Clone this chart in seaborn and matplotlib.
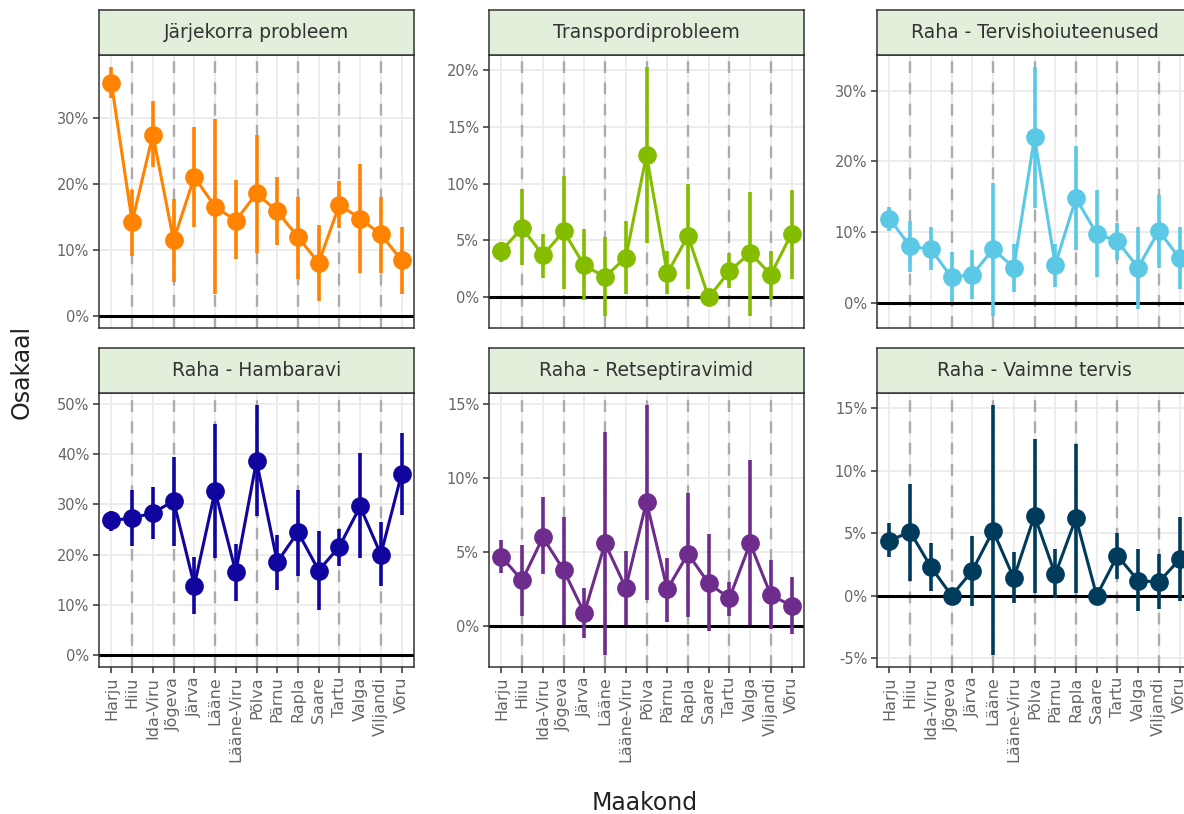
import numpy as np
import pandas as pd
import matplotlib
matplotlib.use("Agg")
import matplotlib.pyplot as plt
import seaborn as sns
from matplotlib.ticker import MultipleLocator, FuncFormatter

# ---------------- data (percent) ----------------
counties = ["Harju", "Hiiu", "Ida-Viru", "Jõgeva", "Järva", "Lääne", "Lääne-Viru",
            "Põlva", "Pärnu", "Rapla", "Saare", "Tartu", "Valga", "Viljandi", "Võru"]

panels = ["Järjekorra probleem", "Transpordiprobleem", "Raha - Tervishoiuteenused",
          "Raha - Hambaravi", "Raha - Retseptiravimid", "Raha - Vaimne tervis"]

jarjekord_val = [35.2, 14.2, 27.4, 11.4, 21.0, 16.5, 14.4, 18.5, 15.8, 11.9, 8.0, 16.8, 14.7, 12.3, 8.4]
jarjekord_lo = [32.9, 9.1, 22.5, 5.1, 13.4, 3.3, 8.6, 9.5, 10.7, 5.6, 2.2, 13.2, 6.5, 6.5, 3.3]
jarjekord_hi = [37.6, 19.0, 32.5, 17.7, 28.6, 29.8, 20.5, 27.3, 21.0, 18.0, 13.7, 20.4, 22.9, 18.0, 13.4]

transport_val = [4.1, 6.1, 3.7, 5.8, 2.8, 1.8, 3.5, 12.5, 2.1, 5.4, 0.0, 2.3, 3.9, 2.0, 5.6]
transport_lo = [3.1, 2.8, 1.7, 0.7, -0.2, -1.6, 0.3, 4.8, 0.3, 0.7, 0.0, 0.8, -1.6, -0.2, 1.6]
transport_hi = [4.9, 9.5, 5.6, 10.7, 6.0, 5.3, 6.7, 20.2, 4.1, 10.0, 0.0, 3.9, 9.3, 4.1, 9.4]

tervis_val = [11.9, 8.0, 7.6, 3.6, 4.0, 7.6, 5.0, 23.4, 5.4, 14.8, 9.8, 8.7, 5.0, 10.2, 6.3]
tervis_lo = [10.2, 4.4, 4.6, 0.1, 0.6, -1.8, 1.6, 13.4, 2.2, 7.5, 3.6, 6.0, -0.8, 4.9, 2.0]
tervis_hi = [13.5, 11.6, 10.7, 7.2, 7.5, 17.0, 8.3, 33.3, 8.3, 22.2, 16.0, 11.3, 10.7, 15.2, 10.7]

hamba_val = [26.8, 27.3, 28.3, 30.7, 13.8, 32.7, 16.5, 38.7, 18.5, 24.5, 16.8, 21.6, 29.6, 20.0, 36.1]
hamba_lo = [24.8, 21.7, 23.1, 21.7, 8.1, 19.3, 10.8, 27.6, 12.9, 15.8, 8.9, 17.8, 19.3, 13.8, 27.8]
hamba_hi = [28.6, 32.9, 33.5, 39.5, 19.6, 46.0, 22.1, 49.8, 24.0, 32.8, 24.8, 25.1, 40.3, 26.5, 44.3]

retsept_val = [4.7, 3.1, 6.0, 3.8, 0.9, 5.6, 2.6, 8.4, 2.5, 4.9, 2.9, 1.9, 5.6, 2.1, 1.4]
retsept_lo = [3.6, 0.7, 3.5, 0.1, -0.8, -1.9, 0.1, 1.8, 0.3, 0.6, -0.3, 0.7, 0.1, -0.2, -0.5]
retsept_hi = [5.8, 5.5, 8.7, 7.4, 2.6, 13.1, 5.1, 14.9, 4.6, 9.0, 6.2, 3.0, 11.2, 4.5, 3.3]

vaimne_val = [4.4, 5.1, 2.3, 0.0, 2.0, 5.2, 1.4, 6.4, 1.7, 6.2, 0.0, 3.2, 1.2, 1.1, 2.9]
vaimne_lo = [3.1, 1.2, 0.4, 0.0, -0.8, -4.7, -0.6, 0.2, -0.2, 0.2, 0.0, 1.3, -1.2, -1.1, -0.4]
vaimne_hi = [5.8, 8.9, 4.2, 0.0, 4.8, 15.2, 3.5, 12.5, 3.7, 12.1, 0.0, 5.0, 3.7, 3.3, 6.3]

colors = ["#FF8200", "#84BD00", "#5BC8E6", "#10069F", "#6E2C8C", "#003B5C"]
ystep = [10, 5, 10, 10, 5, 5]

series = [
    (jarjekord_val, jarjekord_lo, jarjekord_hi),
    (transport_val, transport_lo, transport_hi),
    (tervis_val, tervis_lo, tervis_hi),
    (hamba_val, hamba_lo, hamba_hi),
    (retsept_val, retsept_lo, retsept_hi),
    (vaimne_val, vaimne_lo, vaimne_hi),
]

frames = []
for name, (v, lo, hi) in zip(panels, series):
    frames.append(pd.DataFrame({"panel": name, "maakond": counties,
                                "pos": np.arange(len(counties)),
                                "val": v, "lo": lo, "hi": hi}))
df = pd.concat(frames, ignore_index=True)

# ---------------- style ----------------
sns.set_theme(style="white")
plt.rcParams["font.family"] = ["DejaVu Sans"]

W, H = 1184, 814
fig = plt.figure(figsize=(W / 100, H / 100), dpi=100)

col_x = [99, 489, 877]
pan_w = 315
rows = [(10, 55, 328), (348, 393, 667)]  # strip top, panel top, panel bottom

def add_px_axes(x0, y0, x1, y1):
    return fig.add_axes([x0 / W, 1 - y1 / H, (x1 - x0) / W, (y1 - y0) / H])

pct = FuncFormatter(lambda v, p: f"{v:.0f}%")

for k, name in enumerate(panels):
    r, c = divmod(k, 3)
    st, pt, pb = rows[r]
    x0 = col_x[c]
    d = df[df.panel == name]
    color = colors[k]

    ax = add_px_axes(x0, pt, x0 + pan_w, pb)
    ax.set_facecolor("white")

    # grid
    for i in d.pos:
        ax.axvline(i, color="#EBEBEB", lw=1.3, zorder=0.5)
    for i in d.pos[1::2]:
        ax.axvline(i, color="#ABABAB", lw=1.7, ls=(0, (5, 4)), zorder=0.8)

    ax.axhline(0, color="black", lw=2.2, zorder=1.5)
    ax.vlines(d.pos, d.lo, d.hi, color=color, lw=2.6, zorder=2)
    sns.lineplot(data=d, x="pos", y="val", color=color, lw=2.2, marker="o",
                 markersize=13.5, markeredgewidth=0, ax=ax, zorder=3,
                 errorbar=None, sort=False)

    lo = min(0, d.lo.min())
    hi = max(0, d.hi.max())
    pad = (hi - lo) * 0.05
    ax.set_ylim(lo - pad, hi + pad)
    ax.set_xlim(-0.6, len(counties) - 1 + 0.6)
    ax.yaxis.set_major_locator(MultipleLocator(ystep[k]))
    ax.yaxis.set_major_formatter(pct)
    ax.grid(axis="y", color="#EBEBEB", lw=1.3, zorder=0.4)
    ax.set_axisbelow(True)
    ax.set_xticks(d.pos)
    if r == 1:
        ax.set_xticklabels(counties, rotation=90, fontsize=11.5, color="#666666")
        ax.tick_params(axis="x", length=4, width=1.1, color="#333333", pad=3, bottom=True)
    else:
        ax.set_xticklabels([])
        ax.tick_params(axis="x", length=0)
    ax.tick_params(axis="y", length=4, width=1.1, color="#333333", labelsize=10.5,
                   labelcolor="#666666", pad=3, left=True)
    ax.set_xlabel("")
    ax.set_ylabel("")
    for sp in ax.spines.values():
        sp.set_color("#333333")
        sp.set_linewidth(1.1)

    sax = add_px_axes(x0, st, x0 + pan_w, pt)
    sax.set_facecolor("#E2EFDA")
    sax.set_xticks([])
    sax.set_yticks([])
    for sp in sax.spines.values():
        sp.set_color("#333333")
        sp.set_linewidth(1.1)
    sax.text(0.5, 0.5, name, ha="center", va="center", fontsize=13.5,
             color="#333333", transform=sax.transAxes)

fig.text(645 / W, 1 - 803 / H, "Maakond", ha="center", va="center", fontsize=17, color="#222222")
fig.text(22 / W, 1 - 372 / H, "Osakaal", ha="center", va="center", rotation=90,
         fontsize=17, color="#222222")

fig.savefig("out.png", dpi=100)
